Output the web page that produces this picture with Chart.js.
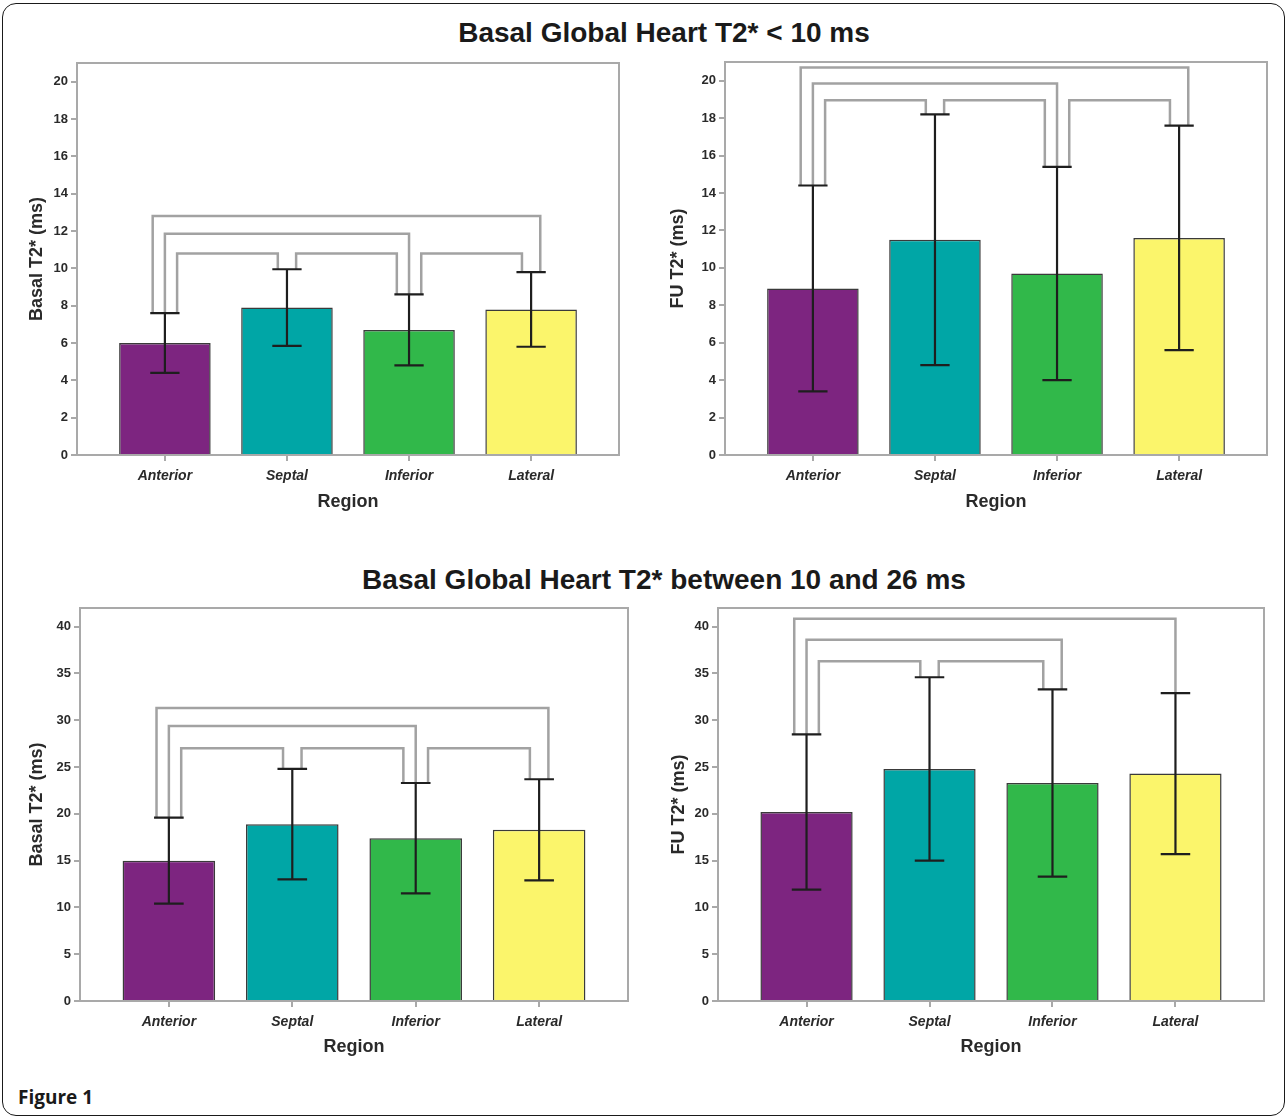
<!DOCTYPE html>
<html>
<head>
<meta charset="utf-8">
<script src="https://cdn.jsdelivr.net/npm/chart.js@4.4.1/dist/chart.umd.min.js"></script>
<style>
  body { margin: 0; background: #fff; }
  #page { position: relative; width: 1287px; height: 1118px; overflow: hidden; background: #fff; }
  #frame { position: absolute; left: 2px; top: 3px; width: 1281px; height: 1111px;
           border: 1.5px solid #1a1a1a; border-radius: 14px; }
  canvas { position: absolute; }
  .title { position: absolute; left: 664px; transform: translateX(-50%); white-space: nowrap;
           font: bold 28px "Liberation Sans", Arial, sans-serif; color: #1a1a1a; line-height: 32px; }
  #fig { position: absolute; left: 18px; top: 1084px; font: bold 19px "Open Sans", sans-serif; color: #1a1a1a; }
</style>
</head>
<body>
<div id="page">
  <div id="frame"></div>
  <div class="title" style="top:17px">Basal Global Heart T2* &lt; 10 ms</div>
  <div class="title" style="top:564px">Basal Global Heart T2* between 10 and 26 ms</div>
  <canvas id="tl" width="640" height="470" style="left:0px;top:50px"></canvas>
  <canvas id="tr" width="645" height="470" style="left:640px;top:50px"></canvas>
  <canvas id="bl" width="640" height="470" style="left:0px;top:595px"></canvas>
  <canvas id="br" width="645" height="470" style="left:640px;top:595px"></canvas>
  <div id="fig">Figure 1</div>
</div>
<script>
// data
const categories = ["Anterior", "Septal", "Inferior", "Lateral"]
const barColors = ["#7d2580", "#00a6a6", "#31b84a", "#fbf56b"]

// basal global T2* < 10 ms
const basalLowMean = [6.0, 7.9, 6.7, 7.8]
const basalLowSd = [1.6, 2.05, 1.9, 2.0]
const fuLowMean = [8.9, 11.5, 9.7, 11.6]
const fuLowSd = [5.5, 6.7, 5.7, 6.0]

// basal global T2* between 10 and 26 ms
const basalMidMean = [15.0, 18.9, 17.4, 18.3]
const basalMidSd = [4.6, 5.9, 5.9, 5.4]
const fuMidMean = [20.2, 24.8, 23.3, 24.3]
const fuMidSd = [8.3, 9.8, 10.0, 8.6]

// significance brackets: [from, to, level]
const basalLowPairs = [[0, 3, 12.8], [0, 2, 11.85], [0, 1, 10.8], [1, 2, 10.8], [2, 3, 10.8]]
const fuLowPairs = [[0, 3, 20.7], [0, 2, 19.85], [0, 1, 18.95], [1, 2, 18.95], [2, 3, 18.95]]
const basalMidPairs = [[0, 3, 31.3], [0, 2, 29.4], [0, 1, 27.0], [1, 2, 27.0], [2, 3, 27.0]]
const fuMidPairs = [[0, 3, 40.85], [0, 2, 38.6], [0, 1, 36.3], [1, 2, 36.3]]

const lowTicks = [0, 2, 4, 6, 8, 10, 12, 14, 16, 18, 20]
const midTicks = [0, 5, 10, 15, 20, 25, 30, 35, 40]

const FONT = "'Liberation Sans', Arial, sans-serif"
const GRAY = "#a9a9a9"

// leg offsets for the brackets at each category
function legOffsets(pairs) {
  const legs = {}
  pairs.forEach((p, k) => {
    (legs[p[0]] = legs[p[0]] || []).push({ k: k, end: 0, dir: "right", level: p[2] });
    (legs[p[1]] = legs[p[1]] || []).push({ k: k, end: 1, dir: "left", level: p[2] })
  })
  const out = pairs.map(() => [0, 0])
  Object.keys(legs).forEach(c => {
    const list = legs[c]
    list.sort((a, b) => {
      if (a.dir != b.dir) return a.dir == "left" ? -1 : 1
      return a.dir == "left" ? a.level - b.level : b.level - a.level
    })
    const n = list.length
    const step = n == 2 ? 0.15 : 0.1
    list.forEach((l, j) => { out[l.k][l.end] = (j - (n - 1) / 2) * step })
  })
  return out
}

const extras = {
  id: "extras",
  afterDatasetsDraw(chart, args, opts) {
    const { ctx, chartArea: a, scales: { x, y } } = chart
    ctx.save()
    // box top and right
    ctx.strokeStyle = GRAY
    ctx.lineWidth = 2
    ctx.beginPath()
    ctx.moveTo(a.left, a.top)
    ctx.lineTo(a.right, a.top)
    ctx.lineTo(a.right, a.bottom)
    ctx.stroke()

    const hi = opts.mean.map((m, i) => m + opts.sd[i])
    const lo = opts.mean.map((m, i) => m - opts.sd[i])

    // brackets
    const offs = legOffsets(opts.pairs)
    ctx.strokeStyle = "#a2a2a2"
    ctx.lineWidth = 2.5
    opts.pairs.forEach((p, k) => {
      const x0 = x.getPixelForValue(p[0] + offs[k][0])
      const x1 = x.getPixelForValue(p[1] + offs[k][1])
      const yl = y.getPixelForValue(p[2])
      ctx.beginPath()
      ctx.moveTo(x0, y.getPixelForValue(hi[p[0]]))
      ctx.lineTo(x0, yl)
      ctx.lineTo(x1, yl)
      ctx.lineTo(x1, y.getPixelForValue(hi[p[1]]))
      ctx.stroke()
    })

    // error bars
    ctx.strokeStyle = "#1e1e1e"
    ctx.lineWidth = 2.2
    opts.mean.forEach((m, i) => {
      const xc = x.getPixelForValue(i)
      const xa = x.getPixelForValue(i - 0.12)
      const xb = x.getPixelForValue(i + 0.12)
      const yh = y.getPixelForValue(hi[i])
      const yo = y.getPixelForValue(lo[i])
      ctx.beginPath()
      ctx.moveTo(xc, yh); ctx.lineTo(xc, yo)
      ctx.moveTo(xa, yh); ctx.lineTo(xb, yh)
      ctx.moveTo(xa, yo); ctx.lineTo(xb, yo)
      ctx.stroke()
    })
    ctx.restore()
  }
}

function makeChart(id, cfg) {
  const el = document.getElementById(id)
  const bx = parseFloat(el.style.left), by = parseFloat(el.style.top)
  const f = cfg.frame
  new Chart(el, {
    type: "bar",
    data: {
      datasets: [{
        data: cfg.mean.map((m, i) => ({ x: i, y: m })),
        backgroundColor: barColors,
        borderColor: "#3a3a3a",
        borderWidth: 1.5,
        barPercentage: 0.75,
        categoryPercentage: 1
      }]
    },
    options: {
      responsive: false,
      animation: false,
      layout: { padding: { left: 0, top: f.top - by, right: bx + el.width - f.right, bottom: 0 } },
      plugins: {
        legend: { display: false },
        tooltip: { enabled: false },
        extras: { mean: cfg.mean, sd: cfg.sd, pairs: cfg.pairs }
      },
      scales: {
        x: {
          type: "linear",
          min: -0.72,
          max: 3.72,
          offset: false,
          afterFit: s => { s.height = by + el.height - f.bottom },
          afterBuildTicks: s => { s.ticks = categories.map((c, i) => ({ value: i })) },
          grid: { offset: false, drawOnChartArea: false, tickLength: 6, color: GRAY, lineWidth: 2 },
          border: { display: true, color: GRAY, width: 2 },
          ticks: {
            autoSkip: false, maxRotation: 0, padding: 7, color: "#2a2a2a",
            font: { family: FONT, size: 14, weight: "bold", style: "italic" },
            callback: v => categories[v]
          },
          title: {
            display: true, text: "Region", color: "#2a2a2a",
            font: { family: FONT, size: 18, weight: "bold" },
            padding: { top: 0, bottom: 7 }
          }
        },
        y: {
          min: 0,
          max: cfg.yMax,
          afterFit: s => { s.width = f.left - bx },
          afterBuildTicks: s => { s.ticks = cfg.ticks.map(v => ({ value: v })) },
          grid: { drawOnChartArea: false, tickLength: 6, color: GRAY, lineWidth: 2 },
          border: { display: true, color: GRAY, width: 2 },
          ticks: {
            padding: 3, color: "#2a2a2a",
            font: { family: FONT, size: 13, weight: "bold" }
          },
          title: {
            display: true, text: cfg.yTitle, color: "#2a2a2a",
            font: { family: FONT, size: 18, weight: "bold" },
            padding: { top: cfg.titleX - bx - 10.8, bottom: 0 }
          }
        }
      }
    },
    plugins: [extras]
  })
}

makeChart("tl", { mean: basalLowMean, sd: basalLowSd, pairs: basalLowPairs, ticks: lowTicks, yMax: 21,
  yTitle: "Basal T2* (ms)", titleX: 37, frame: { left: 77, top: 63, right: 619, bottom: 455 } })
makeChart("tr", { mean: fuLowMean, sd: fuLowSd, pairs: fuLowPairs, ticks: lowTicks, yMax: 21,
  yTitle: "FU T2* (ms)", titleX: 678, frame: { left: 725, top: 62, right: 1267, bottom: 455 } })
makeChart("bl", { mean: basalMidMean, sd: basalMidSd, pairs: basalMidPairs, ticks: midTicks, yMax: 42,
  yTitle: "Basal T2* (ms)", titleX: 37, frame: { left: 80, top: 608, right: 628, bottom: 1001 } })
makeChart("br", { mean: fuMidMean, sd: fuMidSd, pairs: fuMidPairs, ticks: midTicks, yMax: 42,
  yTitle: "FU T2* (ms)", titleX: 679, frame: { left: 718, top: 608, right: 1264, bottom: 1001 } })
</script>
</body>
</html>
